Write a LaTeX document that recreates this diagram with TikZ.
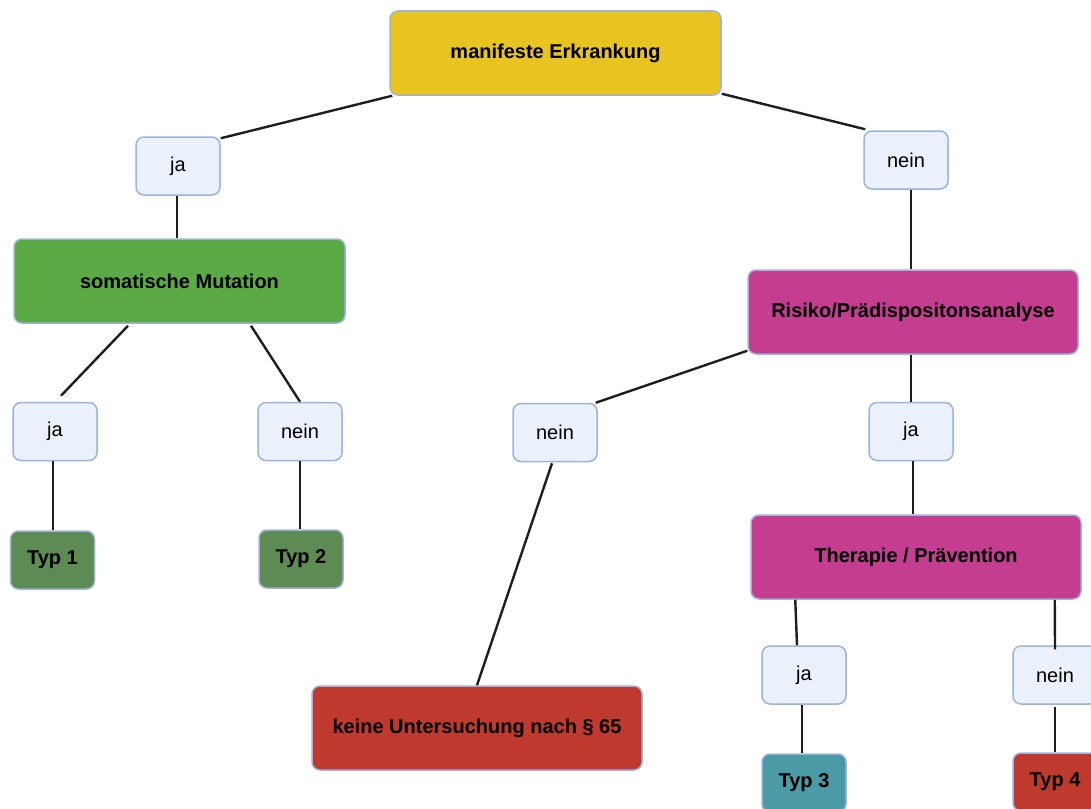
\documentclass[tikz,border=0pt]{standalone}
\usepackage{fontspec}
\setmainfont{Liberation Sans}
\definecolor{bord}{HTML}{9DB3DC}
\definecolor{lite}{HTML}{EAF1FB}
\definecolor{yel}{HTML}{E8C420}
\definecolor{grn}{HTML}{5BAA46}
\definecolor{dgrn}{HTML}{5E8A53}
\definecolor{mag}{HTML}{C43D91}
\definecolor{red1}{HTML}{C0392F}
\definecolor{teal1}{HTML}{4A9BA6}
\definecolor{edge}{HTML}{1E1E1E}
\tikzset{
  box/.style={draw=bord, line width=1.5pt, rounded corners=8pt, inner sep=0pt, align=center,
    font=\fontsize{20}{24}\selectfont},
  bigbox/.style={box, minimum width=331pt, minimum height=84pt, font=\fontsize{20}{24}\selectfont\bfseries},
  answer/.style={box, fill=lite, minimum width=84pt, minimum height=58pt},
  leaf/.style={box, minimum width=84pt, minimum height=58pt, font=\fontsize{20}{24}\selectfont\bfseries},
  conn/.style={draw=edge, line width=2.4pt}
}
\begin{document}
\begin{tikzpicture}[x=1pt,y=-1pt]
\useasboundingbox (0,0) rectangle (1091,808);
\clip (0,0) rectangle (1091,808);
\node[bigbox, fill=yel] (top) at (555.5,53) {manifeste Erkrankung};
\node[answer] (ja1) at (178,166) {ja};
\node[answer] (nein1) at (906,160) {nein};
\node[bigbox, fill=grn] (som) at (179.5,281) {somatische Mutation};
\node[bigbox, fill=mag, minimum width=330pt] (ris) at (913,312) {Risiko/Prädispositonsanalyse};
\node[answer] (ja2) at (55,431.5) {ja};
\node[answer] (nein2) at (300,431.5) {nein};
\node[answer] (nein3) at (555,432.5) {nein};
\node[answer] (ja3) at (911,431.5) {ja};
\node[leaf, fill=dgrn] (typ1) at (52.5,560) {Typ 1};
\node[leaf, fill=dgrn] (typ2) at (301,559) {Typ 2};
\node[bigbox, fill=mag, minimum width=330pt] (ther) at (916,557) {Therapie / Prävention};
\node[bigbox, fill=red1, minimum width=330pt] (keine) at (477,728) {keine Untersuchung nach § 65};
\node[answer] (ja4) at (804,675) {ja};
\node[answer] (nein4) at (1055,675) {nein};
\node[leaf, fill=teal1] (typ3) at (804,783) {Typ 3};
\node[leaf, fill=red1] (typ4) at (1055,782) {Typ 4};

\draw[conn] ([xshift=3pt]top.south west) -- ([yshift=-2pt]ja1.north east);
\draw[conn] ([yshift=2pt]top.south east) -- ([xshift=2pt,yshift=1pt]nein1.north west);
\draw[conn] ([xshift=-1pt]ja1.south) -- ([xshift=-1pt]ja1.south |- som.north);
\draw[conn] ([xshift=5pt]nein1.south) -- ([xshift=5pt]nein1.south |- ris.north);
\draw[conn] ([xshift=-51.5pt,yshift=-2pt]som.south) -- ([xshift=6pt,yshift=6pt]ja2.north);
\draw[conn] ([xshift=71.5pt,yshift=-2pt]som.south) -- (nein2.north);
\draw[conn] ([yshift=4pt]ris.south west) -- ([xshift=-2pt]nein3.north east);
\draw[conn] ([xshift=-2pt]ris.south) -- ([xshift=-2pt]ris.south |- ja3.north);
\draw[conn] ([xshift=-2pt]ja2.south) -- ([xshift=0.5pt]typ1.north);
\draw[conn] (nein2.south) -- (nein2.south |- typ2.north);
\draw[conn] ([xshift=-3pt,yshift=-1pt]nein3.south) -- (keine.north);
\draw[conn] ([xshift=2pt]ja3.south) -- ([xshift=2pt]ja3.south |- ther.north);
\draw[conn] ([xshift=45pt]ther.south west) -- ([xshift=-7pt]ja4.north);
\draw[conn] ([xshift=-27pt]ther.south east) -- ([yshift=-4pt]nein4.north);
\draw[conn] ([xshift=-2pt]ja4.south) -- ([xshift=-2pt]ja4.south |- typ3.north);
\draw[conn] ([yshift=-2pt]nein4.south) -- (typ4.north);
\end{tikzpicture}
\end{document}
